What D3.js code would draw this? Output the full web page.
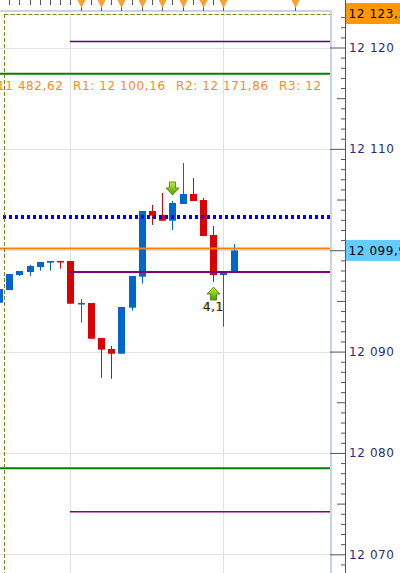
<!DOCTYPE html>
<html>
<head>
<meta charset="utf-8">
<script src="https://cdn.jsdelivr.net/npm/d3@7"></script>
<style>
body { margin: 0; background: #fff; overflow: hidden; }
svg { display: block; font-family: "DejaVu Sans", Verdana, sans-serif; }
.lbl { font-size: 12px; letter-spacing: 0.6px; }
</style>
</head>
<body>
<div id="chart"></div>
<script>
// Bougies (index 0 = bougie coupee a gauche)
var opens  = [12094.82, 12096.07, 12097.55, 12097.85, 12098.34, 12098.77, 12098.94, 12098.94, 12094.72, 12094.79, 12091.34, 12090.25,
              12089.79, 12094.33, 12097.39, 12103.87, 12103.47, 12102.91, 12104.56, 12105.55, 12104.95, 12101.50, 12097.55, 12097.88];
var highs  = [12096.17, 12097.65, 12097.95, 12098.54, 12098.84, 12098.94, 12098.94, 12098.94, 12095.19, 12094.79, 12091.34, 12090.55,
              12094.40, 12097.46, 12103.87, 12104.46, 12105.65, 12104.86, 12108.60, 12107.13, 12105.15, 12102.39, 12097.75, 12100.61];
var lows   = [12094.82, 12096.07, 12097.46, 12097.46, 12097.98, 12097.98, 12098.18, 12094.72, 12092.85, 12091.27, 12087.42, 12087.32,
              12089.79, 12094.03, 12096.70, 12102.49, 12102.91, 12101.99, 12104.56, 12104.86, 12101.40, 12096.86, 12092.45, 12097.88];
var closes = [12096.17, 12097.65, 12097.95, 12098.44, 12098.84, 12098.94, 12098.84, 12094.72, 12094.79, 12091.27, 12090.19, 12089.79,
              12094.40, 12097.46, 12103.87, 12103.41, 12102.91, 12104.66, 12105.55, 12104.86, 12101.40, 12097.55, 12097.75, 12099.98];

// Niveaux horizontaux et index de depart
var levelValues = [12120.6, 12117.4, 12103.28, 12100.16, 12097.85, 12078.5, 12074.2];
var levelStart  = [7, -2, -2, -2, 7, -2, 7];
var levelStyles = [
    {color: "#620062", width: 1.5, dash: null},
    {color: "#008000", width: 2, dash: null},
    {color: "#0000ff", width: 4, dash: "3,3"},
    {color: "#ff8000", width: 2, dash: null},
    {color: "#800080", width: 2, dash: null},
    {color: "#008000", width: 2, dash: null},
    {color: "#800080", width: 1.5, dash: null}
];

// Texte des pivots
var pivotTexts = ["11 482,62", "R1: 12 100,16", "R2: 12 171,86", "R3: 12"];
var pivotX = [-3, 73, 176, 279];

// Axes
var yLabels = [12070, 12080, 12090, 12100, 12110, 12120];
var markerIdx = [8, 10, 12, 14, 16, 18, 20, 22, 29];
var gridIdx = [7, 22];
var topPrice = 12123.35, lastPrice = 12099.98;
var arrowDownIdx = 17, arrowUpIdx = 21, arrowText = "4,1";

var width = 400, height = 573,
    plotRight = 330, plotTop = 11, axisX = 345;

var x = d3.scaleLinear().domain([0, 1]).range([-0.5, 9.7]);
var y = d3.scaleLinear().domain([12070, 12120]).range([554.3, 47.5]);

// les etiquettes cachees par l'etiquette du dernier prix ne sont pas ecrites
var fmt = function(d) {
    if (Math.abs(y(d) - y(lastPrice)) < 12) return "";
    return d3.format(",")(d).replace(/,/g, " ");
};
var fmt2 = function(d) { return d3.format(",.2f")(d).replace(/,/g, " ").replace(".", ","); };

var svg = d3.select("#chart").append("svg")
    .attr("width", width)
    .attr("height", height);

svg.append("rect").attr("width", width).attr("height", height).attr("fill", "#fff");

svg.append("defs").append("clipPath").attr("id", "plot")
    .append("rect").attr("x", -10).attr("y", plotTop).attr("width", plotRight + 10).attr("height", height);

var defs = svg.select("defs");
var grad = defs.append("linearGradient").attr("id", "gArrow").attr("x1", 0).attr("y1", 0).attr("x2", 0).attr("y2", 1);
grad.append("stop").attr("offset", "0%").attr("stop-color", "#c4f03a");
grad.append("stop").attr("offset", "100%").attr("stop-color", "#4f9a04");

var plot = svg.append("g").attr("clip-path", "url(#plot)");

// grille
plot.selectAll(".hgrid").data(yLabels).enter().append("line")
    .attr("x1", 0).attr("x2", plotRight)
    .attr("y1", function(d) { return Math.round(y(d)) + 0.5; })
    .attr("y2", function(d) { return Math.round(y(d)) + 0.5; })
    .attr("stroke", "#e2e2e2");

plot.selectAll(".vgrid").data(gridIdx).enter().append("line")
    .attr("x1", function(d) { return Math.floor(x(d)) + 0.5; })
    .attr("x2", function(d) { return Math.floor(x(d)) + 0.5; })
    .attr("y1", plotTop).attr("y2", height)
    .attr("stroke", "#e2e2e2");

// bougies
var idx = d3.range(opens.length);
var col = function(i) { return closes[i] >= opens[i] ? "#0066cc" : "#dd0000"; };

plot.selectAll(".wick").data(idx).enter().append("line")
    .attr("x1", function(i) { return Math.floor(x(i)) + 0.5; })
    .attr("x2", function(i) { return Math.floor(x(i)) + 0.5; })
    .attr("y1", function(i) { return y(highs[i]); })
    .attr("y2", function(i) { return y(lows[i]); })
    .attr("stroke", col);

plot.selectAll(".body").data(idx).enter().append("rect")
    .attr("x", function(i) { return Math.floor(x(i)) - 3; })
    .attr("width", 7)
    .attr("y", function(i) { return y(Math.max(opens[i], closes[i])); })
    .attr("height", function(i) { return Math.max(1.5, Math.abs(y(opens[i]) - y(closes[i]))); })
    .attr("fill", col);

// niveaux
plot.selectAll(".level").data(levelValues).enter().append("line")
    .attr("x1", function(d, i) { return Math.floor(x(levelStart[i])); })
    .attr("x2", plotRight)
    .attr("y1", function(d) { return y(d); })
    .attr("y2", function(d) { return y(d); })
    .attr("stroke", function(d, i) { return levelStyles[i].color; })
    .attr("stroke-width", function(d, i) { return levelStyles[i].width; })
    .attr("stroke-dasharray", function(d, i) { return levelStyles[i].dash; });

// texte pivots
plot.selectAll(".piv").data(pivotTexts).enter().append("text")
    .attr("class", "lbl")
    .attr("x", function(d, i) { return pivotX[i]; })
    .attr("y", 90)
    .attr("fill", "#ff8a1a")
    .text(function(d) { return d; });

// fleches
function arrow(cx, top, down) {
    var p = down
        ? [[cx - 3, top], [cx + 3, top], [cx + 3, top + 6], [cx + 6.5, top + 6], [cx, top + 13], [cx - 6.5, top + 6], [cx - 3, top + 6]]
        : [[cx, top], [cx + 6.5, top + 7], [cx + 3, top + 7], [cx + 3, top + 13], [cx - 3, top + 13], [cx - 3, top + 7], [cx - 6.5, top + 7]];
    plot.append("path")
        .attr("d", d3.line()(p) + "Z")
        .attr("fill", "url(#gArrow)")
        .attr("stroke", "#3f7d00")
        .attr("stroke-width", 0.8);
}
var cxDown = Math.floor(x(arrowDownIdx)) + 0.5;
arrow(cxDown, y(highs[arrowDownIdx]) - 19, true);
var cxUp = Math.floor(x(arrowUpIdx)) + 0.5;
var upTop = y(lows[arrowUpIdx]) + 5;
arrow(cxUp, upTop, false);
plot.append("text").attr("class", "lbl").attr("x", cxUp - 0.7).attr("y", upTop + 24)
    .attr("text-anchor", "middle").attr("fill", "#ff9a30").text(arrowText);
plot.append("text").attr("class", "lbl").attr("x", cxUp).attr("y", upTop + 24)
    .attr("text-anchor", "middle").attr("fill", "#222").text(arrowText);

// cadre de session (pointille olive)
svg.append("line").attr("x1", 4.5).attr("x2", 4.5).attr("y1", 14).attr("y2", height)
    .attr("stroke", "#7f7f1a").attr("stroke-dasharray", "4,2");
svg.append("line").attr("x1", 4.5).attr("x2", plotRight).attr("y1", 14.5).attr("y2", 14.5)
    .attr("stroke", "#7f7f1a").attr("stroke-dasharray", "4,2");

// bordure zone graphique
svg.append("line").attr("x1", 0).attr("x2", plotRight + 2).attr("y1", plotTop).attr("y2", plotTop)
    .attr("stroke", "#cbd3e0").attr("stroke-width", 2);
svg.append("line").attr("x1", plotRight + 1).attr("x2", plotRight + 1).attr("y1", plotTop).attr("y2", height)
    .attr("stroke", "#cbd3e0").attr("stroke-width", 2);

// axe des prix
var axisG = svg.append("g").attr("transform", "translate(" + axisX + ",0)");
axisG.append("g")
    .call(d3.axisRight(y).tickValues(d3.range(12068, 12124).filter(function(d) { return d % 5 != 0; }))
        .tickSizeInner(-4).tickSizeOuter(0).tickFormat(""));
axisG.append("g")
    .call(d3.axisRight(y).tickValues([12075, 12085, 12095, 12105, 12115])
        .tickSizeInner(-8).tickSizeOuter(0).tickFormat(""));
axisG.append("g").attr("class", "lbl")
    .call(d3.axisRight(y).tickValues(yLabels).tickSizeInner(-15).tickSizeOuter(0).tickPadding(4).tickFormat(fmt));
axisG.selectAll(".domain").remove();
axisG.selectAll(".tick line").attr("stroke", "#555");
axisG.selectAll(".tick text").attr("fill", "#2c2c74").attr("font-size", 12).attr("font-family", "DejaVu Sans, Verdana, sans-serif");
svg.append("line").attr("x1", axisX + 0.5).attr("x2", axisX + 0.5).attr("y1", 0).attr("y2", height)
    .attr("stroke", "#555");

// graduations du temps en haut
svg.selectAll(".xt").data(d3.range(1, 23)).enter().append("line")
    .attr("x1", function(d) { return Math.floor(x(d)) + 0.5; })
    .attr("x2", function(d) { return Math.floor(x(d)) + 0.5; })
    .attr("y1", 0).attr("y2", 5)
    .attr("stroke", "#555");

var mk = svg.selectAll(".mk").data(markerIdx).enter().append("g")
    .attr("transform", function(d) { return "translate(" + (Math.floor(x(d)) + 0.5) + ",0)"; });
mk.append("line").attr("y1", 0).attr("y2", plotTop).attr("stroke", "#555");
mk.append("path").attr("d", "M-4,0L4,0L0,8Z").attr("fill", "#f9a030");

// etiquettes de prix
var tags = [{v: topPrice, fill: "#ff9900"}, {v: lastPrice, fill: "#66ccff"}];
var tg = svg.selectAll(".tag").data(tags).enter().append("g");
tg.append("rect")
    .attr("x", axisX + 1).attr("width", width - axisX)
    .attr("y", function(d) { return y(d.v) - 10.5; }).attr("height", 21)
    .attr("fill", function(d) { return d.fill; });
tg.append("text").attr("class", "lbl")
    .attr("x", axisX + 3.5).attr("y", function(d) { return y(d.v); }).attr("dy", "0.35em")
    .attr("fill", "#000")
    .text(function(d) { return fmt2(d.v); });
</script>
</body>
</html>
